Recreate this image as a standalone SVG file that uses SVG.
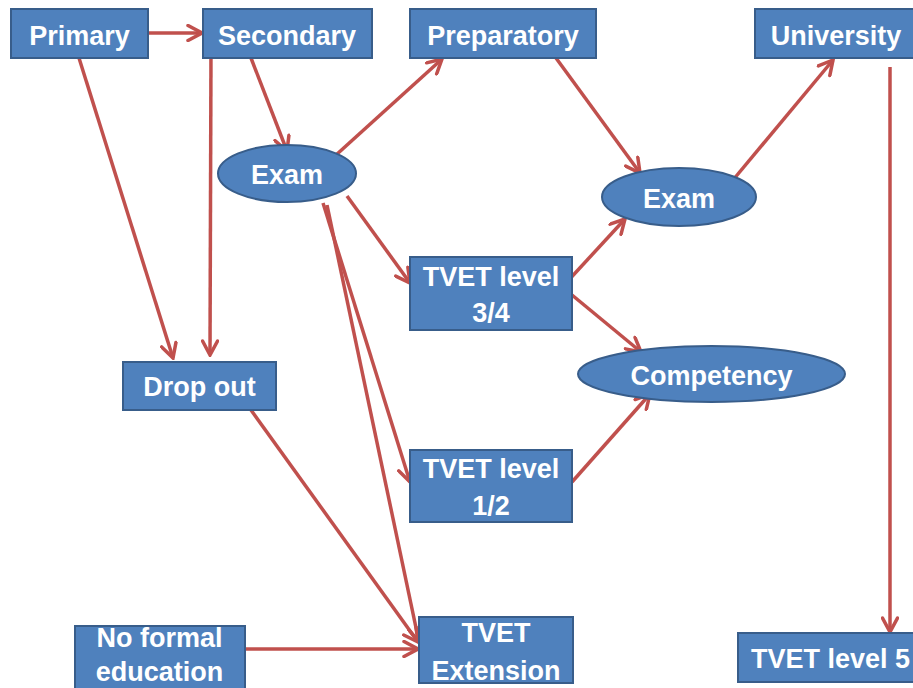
<svg xmlns="http://www.w3.org/2000/svg" width="913" height="688" viewBox="0 0 913 688">
  <style>
    .box { fill: #4F81BD; stroke: #385D8A; stroke-width: 2; }
    .lbl { fill: #FFFFFF; font-family: "Liberation Sans", Arial, sans-serif; font-weight: bold; font-size: 27px; text-anchor: middle; }
    .edge { stroke: #C0504D; stroke-width: 3.5; fill: none; marker-end: url(#arrow); }
  </style>
  <defs>
    <marker id="arrow" viewBox="0 0 18 18" refX="16" refY="9" markerWidth="18" markerHeight="18" markerUnits="userSpaceOnUse" orient="auto">
      <path d="M2,1.5 L16,9 L2,16.5" fill="none" stroke="#C0504D" stroke-width="3.5" stroke-linecap="round" stroke-linejoin="miter"/>
    </marker>
  </defs>
  <rect width="913" height="688" fill="#FFFFFF"/>

  <g id="connectors">
    <line class="edge" x1="148" y1="33" x2="202" y2="33"/>
    <line class="edge" x1="251" y1="58" x2="287" y2="151"/>
    <line class="edge" x1="211" y1="50" x2="210" y2="355"/>
    <line class="edge" x1="79" y1="58" x2="173" y2="358"/>
    <line class="edge" x1="336" y1="155" x2="442" y2="59"/>
    <line class="edge" x1="347" y1="196" x2="410" y2="283"/>
    <line class="edge" x1="323" y1="203" x2="410" y2="482"/>
    <line class="edge" x1="327" y1="205" x2="419" y2="642"/>
    <line class="edge" x1="556" y1="58" x2="640" y2="173"/>
    <line class="edge" x1="733" y1="180" x2="833" y2="60"/>
    <line class="edge" x1="566" y1="283" x2="625" y2="219"/>
    <line class="edge" x1="572" y1="295" x2="641" y2="352"/>
    <line class="edge" x1="572" y1="482" x2="650" y2="394"/>
    <line class="edge" x1="251" y1="410" x2="418" y2="642"/>
    <line class="edge" x1="236" y1="649" x2="418" y2="649"/>
    <line class="edge" x1="890" y1="67" x2="890" y2="632"/>
  </g>

  <g id="primary">
    <rect class="box" x="11" y="9" width="137" height="49"/>
    <text class="lbl" x="79.5" y="45">Primary</text>
  </g>
  <g id="secondary">
    <rect class="box" x="203" y="9" width="169" height="49"/>
    <text class="lbl" x="287" y="45">Secondary</text>
  </g>
  <g id="preparatory">
    <rect class="box" x="410" y="9" width="186" height="49"/>
    <text class="lbl" x="503" y="45">Preparatory</text>
  </g>
  <g id="university">
    <rect class="box" x="755" y="9" width="170" height="49"/>
    <text class="lbl" x="836" y="45">University</text>
  </g>
  <g id="exam-secondary">
    <ellipse class="box" cx="287" cy="173.5" rx="69" ry="28.5"/>
    <text class="lbl" x="287" y="184">Exam</text>
  </g>
  <g id="exam-preparatory">
    <ellipse class="box" cx="679" cy="197" rx="77" ry="29"/>
    <text class="lbl" x="679" y="208">Exam</text>
  </g>
  <g id="tvet-3-4">
    <rect class="box" x="410" y="257" width="162" height="73"/>
    <text class="lbl" x="491" y="286">TVET level</text>
    <text class="lbl" x="491" y="322">3/4</text>
  </g>
  <g id="competency">
    <ellipse class="box" cx="711.5" cy="374" rx="133.5" ry="28"/>
    <text class="lbl" x="711.5" y="385">Competency</text>
  </g>
  <g id="drop-out">
    <rect class="box" x="123" y="362" width="153" height="48"/>
    <text class="lbl" x="199.5" y="396">Drop out</text>
  </g>
  <g id="tvet-1-2">
    <rect class="box" x="410" y="450" width="162" height="72"/>
    <text class="lbl" x="491" y="478">TVET level</text>
    <text class="lbl" x="491" y="515">1/2</text>
  </g>
  <g id="no-formal-education">
    <rect class="box" x="75" y="626" width="170" height="80"/>
    <text class="lbl" x="159.5" y="647">No formal</text>
    <text class="lbl" x="159.5" y="681">education</text>
  </g>
  <g id="tvet-extension">
    <rect class="box" x="419" y="617" width="154" height="66"/>
    <text class="lbl" x="496" y="642">TVET</text>
    <text class="lbl" x="496" y="680">Extension</text>
  </g>
  <g id="tvet-level-5">
    <rect class="box" x="738" y="633" width="190" height="49"/>
    <text class="lbl" x="830.5" y="668">TVET level 5</text>
  </g>
</svg>
